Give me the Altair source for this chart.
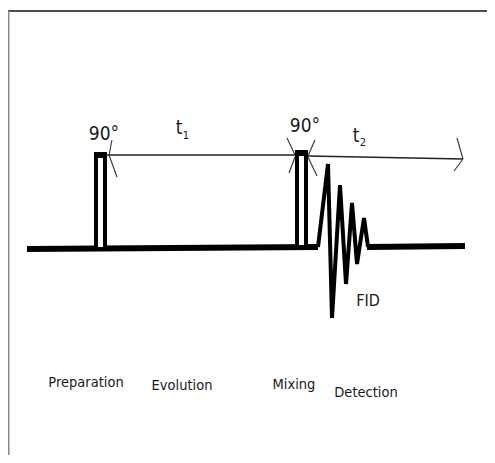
import altair as alt
import pandas as pd

# ---- diagram geometry (window pixels) ----
# thick baseline segments (before FID, after FID)
base_x = [27, 318, 367, 465]
base_y = [249, 247, 247, 246]
base_seg = ["pre", "pre", "post", "post"]

# FID oscillation vertices
fid_x = [318, 328, 332, 340, 346, 352, 357, 364, 368]
fid_y = [247, 164, 318, 185, 284, 203, 264, 218, 247]

# 90 degree pulses
pulse_left = [94, 295]
pulse_right = [107, 308]
pulse_top = [152, 150]
pulse_bottom = [249, 247]

# delay arrows (main shafts) and arrow-head strokes
shaft_x = [107, 308]
shaft_x2 = [295, 463]
shaft_y = [155, 156]
shaft_y2 = [155, 159]

head_x = [112, 109, 287, 295, 315, 308, 457, 463]
head_y = [140, 155, 138, 157, 140, 157, 138, 159]
head_x2 = [109, 117, 295, 289, 308, 317, 463, 454]
head_y2 = [155, 177, 155, 173, 156, 176, 159, 171]

# labels
pulse_labels = ["90°", "90°"]
pulse_label_x = [104, 305]
pulse_label_y = [140, 132]

delay_main = ["t", "t"]
delay_main_x = [179, 356]
delay_main_y = [134, 142]
delay_sub = ["1", "2"]
delay_sub_x = [186, 363]
delay_sub_y = [139, 146]

fid_label = ["FID"]
fid_label_x = [368]
fid_label_y = [306]

stage_labels = ["Preparation", "Evolution", "Mixing", "Detection"]
stage_x = [86, 182, 294, 366]
stage_y = [387, 390, 389, 397]

FONT = "DejaVu Sans Condensed, Roboto, sans-serif"
INK = "#1a1a1a"

W, H = 479, 447
xs = alt.Scale(domain=[8, 8 + W], range=[0, W])
# y pixel grows downward: map domain min to top
ys = alt.Scale(domain=[8 + H, 8], range=[H, 0])


def X(f="x"):
    return alt.X(f"{f}:Q", scale=xs, axis=None)


def Y(f="y"):
    return alt.Y(f"{f}:Q", scale=ys, axis=None)


base_df = pd.DataFrame({"x": base_x, "y": base_y, "seg": base_seg})
fid_df = pd.DataFrame({"x": fid_x, "y": fid_y, "o": list(range(len(fid_x)))})
pulse_df = pd.DataFrame({
    "x": pulse_left, "x2": pulse_right, "y": pulse_top, "y2": pulse_bottom,
})
pulse_df["xi"] = pulse_df["x"] + 2
pulse_df["xi2"] = pulse_df["x2"] - 2
pulse_df["yi"] = pulse_df["y"] + 2
pulse_df["yb"] = pulse_df["y"] + 6
shaft_df = pd.DataFrame({"x": shaft_x, "x2": shaft_x2, "y": shaft_y, "y2": shaft_y2})
head_df = pd.DataFrame({"x": head_x, "x2": head_x2, "y": head_y, "y2": head_y2})
border_df = pd.DataFrame({"x": [7], "x2": [495], "y": [11], "y2": [11]})
lborder_df = pd.DataFrame({"x": [8.5], "x2": [8.5], "y": [11], "y2": [463]})

baseline = alt.Chart(base_df).mark_line(color="black", strokeWidth=6, strokeCap="butt").encode(
    x=X(), y=Y(), detail="seg:N")
fid = alt.Chart(fid_df).mark_line(color="black", strokeWidth=4, strokeJoin="miter").encode(
    x=X(), y=Y(), order="o:Q")
pulse_box = alt.Chart(pulse_df).mark_rect(fill="white", stroke="black", strokeWidth=4).encode(
    x=X("xi"), x2="xi2:Q", y=Y("yi"), y2="y2:Q")
pulse_bar = alt.Chart(pulse_df).mark_rect(color="black").encode(
    x=X("x"), x2="x2:Q", y=Y("y"), y2="yb:Q")
shafts = alt.Chart(shaft_df).mark_rule(color="#222222", strokeWidth=1.6).encode(
    x=X(), x2="x2:Q", y=Y(), y2="y2:Q")
heads = alt.Chart(head_df).mark_rule(color="#333333", strokeWidth=1.1).encode(
    x=X(), x2="x2:Q", y=Y(), y2="y2:Q")
top_border = alt.Chart(border_df).mark_rule(color="#111111", strokeWidth=1.6).encode(
    x=X(), x2="x2:Q", y=Y(), y2="y2:Q")
left_border = alt.Chart(lborder_df).mark_rule(color="#888888", strokeWidth=2).encode(
    x=X(), x2="x2:Q", y=Y(), y2="y2:Q")

pl_df = pd.DataFrame({"t": pulse_labels, "x": pulse_label_x, "y": pulse_label_y})
pulse_text = alt.Chart(pl_df).mark_text(font=FONT, fontSize=19, color=INK, baseline="alphabetic").encode(
    x=X(), y=Y(), text="t:N")
dm_df = pd.DataFrame({"t": delay_main, "x": delay_main_x, "y": delay_main_y})
dmain_text = alt.Chart(dm_df).mark_text(font=FONT, fontSize=19, color=INK, baseline="alphabetic").encode(
    x=X(), y=Y(), text="t:N")
ds_df = pd.DataFrame({"t": delay_sub, "x": delay_sub_x, "y": delay_sub_y})
dsub_text = alt.Chart(ds_df).mark_text(font=FONT, fontSize=11, color=INK, baseline="alphabetic").encode(
    x=X(), y=Y(), text="t:N")
fl_df = pd.DataFrame({"t": fid_label, "x": fid_label_x, "y": fid_label_y})
fid_text = alt.Chart(fl_df).mark_text(font=FONT, fontSize=16, color=INK, baseline="alphabetic").encode(
    x=X(), y=Y(), text="t:N")
st_df = pd.DataFrame({"t": stage_labels, "x": stage_x, "y": stage_y})
stage_text = alt.Chart(st_df).mark_text(font=FONT, fontSize=14.5, color=INK, baseline="alphabetic").encode(
    x=X(), y=Y(), text="t:N")

chart = alt.layer(
    top_border, left_border, shafts, heads, baseline, fid, pulse_box, pulse_bar,
    pulse_text, dmain_text, dsub_text, fid_text, stage_text,
).properties(
    width=W, height=H, padding=0, autosize=alt.AutoSizeParams(type="none"),
    background="white",
).configure_view(stroke=None)

chart.save("out.html", embed_options={"renderer": "svg", "actions": False})
